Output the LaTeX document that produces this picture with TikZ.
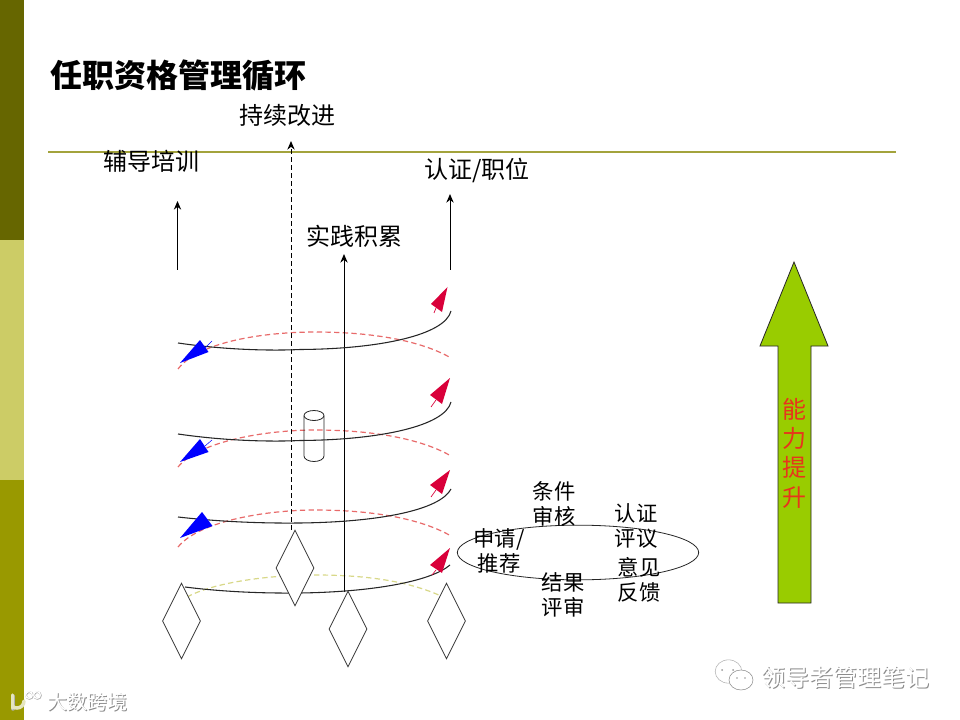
\documentclass[tikz,border=0pt]{standalone}
\usepackage{fontspec}
\setmainfont{Noto Sans CJK SC}
\usetikzlibrary{arrows.meta,shapes.geometric}
\definecolor{barA}{HTML}{666600}
\definecolor{barB}{HTML}{CCCC66}
\definecolor{barC}{HTML}{999900}
\definecolor{ruleC}{HTML}{A3A33C}
\definecolor{dashR}{HTML}{E86A6A}
\definecolor{dashY}{HTML}{D8D888}
\definecolor{crim}{HTML}{D9003A}
\definecolor{grn}{HTML}{99CC00}
\definecolor{redt}{HTML}{E8341C}
\tikzset{
  x=0.75pt,y=-0.75pt,
  lab/.style={font=\fontsize{18pt}{18pt}\selectfont,inner sep=0,text=black},
  small/.style={font=\fontsize{16pt}{19pt}\selectfont,inner sep=0,align=center,text=black},
  title/.style={font=\fontsize{24pt}{24pt}\selectfont\bfseries,inner sep=0,anchor=west},
  up/.style={-{Stealth[length=6.5pt,width=5.5pt]},line width=0.75pt},
  helix/.style={line width=0.8pt,draw=black!85},
  backr/.style={dash pattern=on 4pt off 2.5pt,line width=0.9pt,draw=dashR},
  backy/.style={dash pattern=on 4pt off 2.5pt,line width=0.9pt,draw=dashY},
  dia/.style={diamond,draw=black!80,fill=white,line width=0.6pt,minimum width=28.5pt,minimum height=57pt,aspect=0.5,inner sep=0},
  cyl/.style={draw=black!85,line width=0.6pt},
  bluek/.style={fill=blue,draw=none},
  redk/.style={fill=crim,draw=none},
  wm/.style={inner sep=0,text=white},
  wms/.style={inner sep=0,text=black!45},
  wfont/.style={font=\fontsize{15pt}{16pt}\selectfont},
  wfontb/.style={font=\fontsize{18pt}{18pt}\selectfont},
  bub/.style={ellipse,fill=white,inner sep=0,line width=0.4pt}
}
\begin{document}
\begin{tikzpicture}
\useasboundingbox (0,0) rectangle (960,720);
\fill[white] (0,0) rectangle (960,720);
\fill[barA] (0,0) rectangle (24,240);
\fill[barB] (0,240) rectangle (24,480);
\fill[barC] (0,480) rectangle (24,720);
\coordinate (ruleL) at (48,152);
\coordinate (ruleR) at (896,152);
\draw[ruleC,line width=1.4pt] (ruleL) -- (ruleR);
\node[title] (ttl) at (50,75) {任职资格管理循环};

% red / yellow back parts of the coil
\draw[backr] (178,369) .. controls (200,340) and (270,332) .. (315,332) .. controls (370,332) and (420,340) .. (451,358);
\draw[backr] (178,467) .. controls (200,440) and (270,430) .. (315,430) .. controls (370,430) and (420,438) .. (451,456);
\draw[backr] (178,547) .. controls (200,520) and (270,510) .. (315,510) .. controls (370,510) and (420,518) .. (451,536);
\draw[backy] (187,597) .. controls (215,582) and (270,575) .. (315,575) .. controls (370,575) and (410,582) .. (441,596);

% vertical arrows
\coordinate (a1s) at (177.5,270); \coordinate (a1e) at (177.5,201);
\coordinate (a2s) at (291,530); \coordinate (a2e) at (291,141);
\coordinate (a3s) at (344,592); \coordinate (a3e) at (344,254);
\coordinate (a4s) at (450,270); \coordinate (a4e) at (450,194);
\draw[up] (a1s) -- (a1e);
\draw[up,dash pattern=on 4pt off 2pt] (a2s) -- (a2e);
\draw[up] (a3s) -- (a3e);
\draw[up] (a4s) -- (a4e);

% cylinder
\draw[cyl] (304,416) -- (304,456) arc[start angle=180,end angle=0,x radius=10,y radius=5.5] -- (324,416);
\draw[cyl] (314,415.5) ellipse[x radius=10,y radius=5];

% black front parts of the coil
\draw[helix] (178,343) .. controls (240,352) and (290,350) .. (300,349.5) .. controls (380,349) and (445,335) .. (451,311);
\draw[helix] (178,434) .. controls (240,443) and (290,441) .. (300,440.5) .. controls (380,440) and (445,426) .. (451,402);
\draw[helix] (178,517) .. controls (240,524) and (290,523) .. (300,523) .. controls (380,522) and (440,510) .. (451,489);
\draw[helix] (185,587) .. controls (240,594) and (290,593) .. (300,593) .. controls (370,592) and (430,582) .. (450,565);

% diamonds
\node[dia] (d1) at (181.5,621) {};
\node[dia] (d2) at (295,568) {};
\node[dia] (d3) at (348,629) {};
\node[dia] (d4) at (446.5,621) {};

% blue kites
\draw[blue,line width=0.4pt] (205,348) -- (212,341);
\fill[bluek] (180,363) -- (200,340) -- (208.5,352) -- cycle;
\draw[blue,line width=0.4pt] (205,446) -- (212,440);
\fill[bluek] (180,462) -- (200,439) -- (208.5,452) -- cycle;
\fill[bluek] (180,538) -- (202,512) -- (212.5,526) -- cycle;
% red kites
\draw[crim,line width=0.5pt] (436,308) -- (434,313);
\fill[redk] (447.5,287) -- (431,304) -- (442,312) -- cycle;
\draw[crim,line width=0.5pt] (436,400) -- (431,407);
\fill[redk] (450,378) -- (430,395) -- (442,404) -- cycle;
\draw[crim,line width=0.5pt] (436,490) -- (431,497);
\fill[redk] (450,470) -- (430,485) -- (442,494) -- cycle;
\draw[crim,line width=0.5pt] (436,570) -- (432,575);
\fill[redk] (450,548) -- (430,565) -- (442,573) -- cycle;

% labels
\node[lab] (l1) at (151,161) {辅导培训};
\node[lab] (l2) at (287,115) {持续改进};
\node[lab] (l3) at (477,170) {认证/职位};
\node[lab] (l4) at (354.5,236) {实践积累};

% big arrow
\filldraw[fill=grn,draw=black!85,line width=0.6pt] (794,262) -- (828,346) -- (811,346) -- (811,603) -- (778,603) -- (778,346) -- (760,346) -- cycle;
\node[font=\fontsize{18pt}{22pt}\selectfont,text=redt,inner sep=0,align=center] (nl) at (794,453) {能\\力\\提\\升};

% review cycle
\node[ellipse,draw=black!85,minimum width=181pt,minimum height=41pt,inner sep=0,line width=0.6pt] (cyc) at (578,552.5) {};
\node[small] (c1) at (554,504) {条件\\审核};
\node[small] (c2) at (636,526) {认证\\评议};
\node[small] (c3) at (499,551) {申请/\\推荐};
\node[small] (c4) at (563,595) {结果\\评审};
\node[small] (c5) at (639,580) {意见\\反馈};

% watermarks
\node[wms,wfont] (w1s) at (88,703) {大数跨境};
\node[wm,wfont] (w1) at (87,702) {大数跨境};
\draw[black!30,line width=2.6pt,line cap=round] (13,696) -- (13,709);
\draw[white!75!barC,line width=2.6pt,line cap=round] (12.5,695) -- (12.5,708);
\draw[white!75!barC,line width=2.6pt,line cap=round] (24,701) arc[start angle=0,end angle=130,radius=7];
\draw[black!30,line width=1.3pt] (29.5,695.5) circle[radius=3.4] (37.5,695.5) circle[radius=3.4];
\draw[white,line width=0.9pt] (29,695) circle[radius=3.4] (37,695) circle[radius=3.4];
\node[wms,wfontb] (w2s) at (846,678) {领导者管理笔记};
\node[wm,wfontb] (w2) at (845,677) {领导者管理笔记};
\node[bub,draw=black!30,minimum width=20pt,minimum height=17.5pt] (wa) at (728.5,671.5) {};
\node[bub,draw=black!45,minimum width=18pt,minimum height=15pt] (wb) at (741,680) {};
\fill[black!40] (722,670) circle[radius=1] (733,670) circle[radius=1] (737,678) circle[radius=0.8] (745,678) circle[radius=0.8];
\end{tikzpicture}
\end{document}
